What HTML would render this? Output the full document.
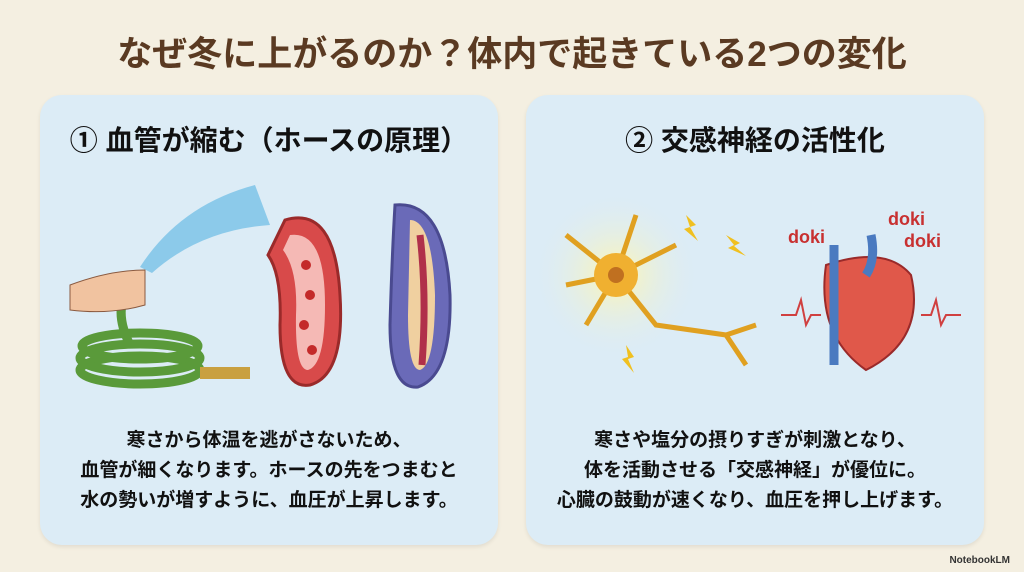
<!DOCTYPE html>
<html><head><meta charset="utf-8"><style>
body{margin:0;width:1024px;height:572px;background:#f4efe1;font-family:"Liberation Sans","Noto Sans CJK JP",sans-serif;position:relative;overflow:hidden}
.title{position:absolute;top:26px;left:0;width:1024px;text-align:center;font-size:35px;font-weight:bold;color:#5a3a22}
.panel{position:absolute;top:95px;width:458px;height:450px;background:#dcecf6;border-radius:22px;box-shadow:0 2px 4px rgba(0,0,0,.08)}
.h{position:absolute;top:24px;width:100%;text-align:center;font-size:28px;font-weight:bold;color:#111}
.t{position:absolute;top:331px;width:100%;text-align:center;font-size:19px;font-weight:bold;color:#111;line-height:30px}
.nb{position:absolute;right:14px;bottom:6px;font-size:10px;color:#333;font-weight:bold}
</style></head><body>
<div class="title">なぜ冬に上がるのか？体内で起きている2つの変化</div>
<div class="panel" style="left:40px">
<div class="h">① 血管が縮む（ホースの原理）</div>
<svg style="position:absolute;left:0;top:80px" width="458" height="240">
<g fill="none" stroke="#5a9a3a" stroke-width="9">
<ellipse cx="100" cy="195" rx="60" ry="14"/><ellipse cx="100" cy="183" rx="60" ry="14"/><ellipse cx="100" cy="171" rx="58" ry="13"/>
<path d="M90 170 Q70 130 95 105"/></g>
<rect x="160" y="192" width="50" height="12" fill="#c9a040"/>
<path d="M30 110 Q70 95 105 95 L105 130 Q70 140 30 135Z" fill="#f1c3a0" stroke="#8a5a40"/>
<path d="M100 92 Q140 30 215 10 L230 50 Q160 55 112 98Z" fill="#7ec4e8" opacity=".85"/>
<path d="M245 45 Q295 30 300 120 Q305 200 270 210 Q240 215 240 150 Q242 100 228 80Z" fill="#d84a4a" stroke="#9a2a2a" stroke-width="3"/>
<path d="M250 60 Q285 55 285 130 Q285 190 268 195 Q255 195 256 140 Q258 95 243 75Z" fill="#f5b9b5"/>
<g fill="#c42a2a"><circle cx="266" cy="90" r="5"/><circle cx="270" cy="120" r="5"/><circle cx="264" cy="150" r="5"/><circle cx="272" cy="175" r="5"/></g>
<path d="M355 30 Q405 25 410 120 Q412 200 378 212 Q350 215 350 150 Q352 80 355 30Z" fill="#6a6ab8" stroke="#4a4a90" stroke-width="3"/>
<path d="M370 45 Q392 45 395 120 Q395 190 380 195 Q368 195 368 140Z" fill="#f0d0a0"/>
<path d="M380 60 Q387 120 382 190" stroke="#b0304a" stroke-width="7" fill="none"/>
</svg>
<div class="t">寒さから体温を逃がさないため、<br>血管が細くなります。ホースの先をつまむと<br>水の勢いが増すように、血圧が上昇します。</div>
</div>
<div class="panel" style="left:526px">
<div class="h">② 交感神経の活性化</div>
<svg style="position:absolute;left:0;top:80px" width="458" height="240">
<defs><radialGradient id="g"><stop offset="0" stop-color="#fff6b0"/><stop offset="1" stop-color="#dcecf6" stop-opacity="0"/></radialGradient></defs>
<circle cx="90" cy="100" r="85" fill="url(#g)"/>
<g stroke="#e0a020" stroke-width="5" fill="none"><path d="M90 100 L40 60 M90 100 L40 110 M90 100 L60 150 M90 100 L110 40 M90 100 L150 70 M90 100 L130 150 L200 160 L220 190 M200 160 L230 150"/></g>
<circle cx="90" cy="100" r="22" fill="#f0b030"/><circle cx="90" cy="100" r="8" fill="#c07020"/>
<g fill="#f0c020"><path d="M160 40 l10 10 -6 2 8 14 -14 -12 6 -2z"/><path d="M200 60 l14 8 -6 3 12 10 -18 -8 6 -3z"/><path d="M100 170 l8 12 -6 2 6 14 -12 -14 6 -2z"/></g>
<text x="262" y="68" font-size="18" font-weight="bold" fill="#c83030">doki</text>
<text x="362" y="50" font-size="18" font-weight="bold" fill="#c83030">doki</text>
<text x="378" y="72" font-size="18" font-weight="bold" fill="#c83030">doki</text>
<path d="M300 90 Q290 160 340 195 Q400 165 385 100 Q360 70 300 90Z" fill="#e0584a" stroke="#9a2a2a" stroke-width="2"/>
<path d="M308 70 L308 190 M345 60 Q350 85 340 100" stroke="#4a7ac0" stroke-width="9" fill="none"/>
<path d="M255 140 h15 l5 -15 5 25 5 -10 h10 M395 140 h10 l5 -15 5 25 5 -10 h15" stroke="#d04040" stroke-width="2" fill="none"/>
</svg>
<div class="t">寒さや塩分の摂りすぎが刺激となり、<br>体を活動させる「交感神経」が優位に。<br>心臓の鼓動が速くなり、血圧を押し上げます。</div>
</div>
<div class="nb">NotebookLM</div>
</body></html>
